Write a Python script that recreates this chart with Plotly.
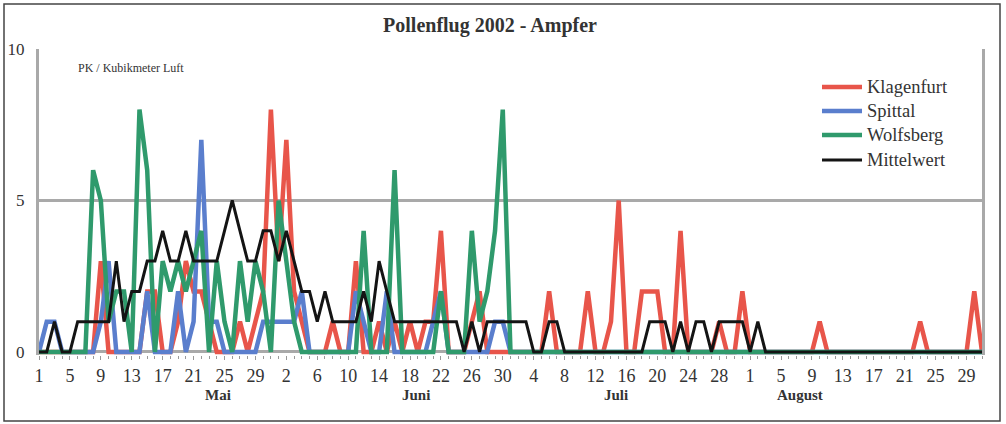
import pandas as pd
import plotly.graph_objects as go

# ---------------- data ----------------
dates = pd.date_range("2002-05-01", "2002-08-31", freq="D")

klagenfurt = (
    # Mai
    [0, 0, 0, 0, 0, 0, 0, 0, 3, 0, 0, 0, 0, 0, 2, 2, 0, 0, 1, 3, 2, 2, 1, 0, 0, 0, 1, 0, 1, 2, 8]
    # Juni
    + [3, 7, 2, 1, 0, 0, 0, 1, 0, 0, 3, 0, 0, 1, 0, 1, 0, 1, 0, 1, 1, 4, 0, 0, 0, 1, 2, 0, 0, 0]
    # Juli
    + [0, 0, 0, 0, 0, 2, 0, 0, 0, 0, 2, 0, 0, 1, 5, 0, 0, 2, 2, 2, 0, 0, 4, 0, 0, 0, 0, 1, 0, 0, 2]
    # August
    + [0, 0, 0, 0, 0, 0, 0, 0, 0, 1, 0, 0, 0, 0, 0, 0, 0, 0, 0, 0, 0, 0, 1, 0, 0, 0, 0, 0, 0, 2, 0]
)
spittal = (
    [0, 1, 1, 0, 0, 0, 0, 0, 1, 3, 0, 0, 0, 0, 2, 0, 0, 0, 2, 0, 1, 7, 1, 1, 0, 0, 0, 0, 0, 1, 1]
    + [1, 1, 1, 2, 0, 0, 0, 0, 0, 0, 2, 1, 0, 0, 2, 0, 0, 0, 0, 0, 1, 2, 0, 0, 0, 0, 0, 0, 1, 1]
    + [0] * 31
    + [0] * 31
)
wolfsberg = (
    [0, 0, 0, 0, 0, 0, 0, 6, 5, 1, 2, 2, 0, 8, 6, 0, 3, 2, 3, 2, 3, 4, 0, 3, 1, 0, 3, 1, 3, 2, 0]
    + [5, 3, 1, 0, 0, 0, 0, 0, 0, 0, 0, 4, 0, 0, 0, 6, 0, 0, 0, 0, 0, 2, 0, 0, 0, 4, 1, 2, 4, 8]
    + [0] * 31
    + [0] * 31
)
mittelwert = (
    [0, 0, 1, 0, 0, 1, 1, 1, 1, 1, 3, 1, 2, 2, 3, 3, 4, 3, 3, 4, 3, 3, 3, 3, 4, 5, 4, 3, 3, 4, 4]
    + [3, 4, 3, 2, 2, 1, 2, 1, 1, 1, 1, 2, 1, 3, 2, 1, 1, 1, 1, 1, 1, 1, 1, 1, 0, 1, 0, 1, 1, 1]
    + [1, 1, 1, 0, 0, 1, 1, 0, 0, 0, 0, 0, 0, 0, 0, 0, 0, 0, 1, 1, 1, 0, 1, 0, 1, 1, 0, 1, 1, 1, 1]
    + [0, 1] + [0] * 29
)

series_names = ["Klagenfurt", "Spittal", "Wolfsberg", "Mittelwert"]
series_values = [klagenfurt, spittal, wolfsberg, mittelwert]
series_colors = ["#E8554A", "#5A7ECD", "#2F9A6C", "#141414"]
series_widths = [4.5, 4.5, 4.5, 3]

month_labels = ["Mai", "Juni", "Juli", "August"]
y_ticks = [0, 5, 10]

# ---------------- layout geometry (pixels) ----------------
W, H = 1006, 424
PL, PR, PT, PB = 39, 982, 49, 355   # plot area edges


def px(xp):
    return (xp - PL) / (PR - PL)


def py(yp):
    return (PB - yp) / (PB - PT)


# ---------------- figure ----------------
fig = go.Figure()
for name, vals, col, w in zip(series_names, series_values, series_colors, series_widths):
    fig.add_trace(go.Scatter(x=dates, y=vals, mode="lines", name=name,
                             line=dict(color=col, width=w), showlegend=False))

tick_dates = dates[::4]
grid_col = "#A9A9A9"
txt_col = "#333333"
font_fam = "Liberation Serif"

fig.update_layout(
    width=W, height=H,
    margin=dict(l=PL, r=W - PR, t=PT, b=H - PB),
    paper_bgcolor="white", plot_bgcolor="white",
    font=dict(family=font_fam, color=txt_col),
    title=dict(text="<b>Pollenflug 2002 - Ampfer</b>", xref="container", yref="container",
               x=490 / W, xanchor="center", y=1 - 25 / H, yanchor="middle",
               font=dict(size=20, color=txt_col, family=font_fam)),
    showlegend=False,
    xaxis=dict(type="date", range=[dates[0], dates[-1]],
               tickvals=list(tick_dates), ticktext=[str(d.day) for d in tick_dates],
               ticks="outside", ticklen=4, tickcolor="#999", tickwidth=1,
               showgrid=False, zeroline=False, showline=False, automargin=False,
               tickfont=dict(size=18, color=txt_col, family=font_fam),
               minor=dict(ticks="outside", ticklen=3, tickcolor="#999", dtick=86400000, showgrid=False)),
    yaxis=dict(range=[-0.1, 10], tickvals=y_ticks, ticktext=[str(v) for v in y_ticks],
               showgrid=True, gridcolor=grid_col, gridwidth=2.5, zeroline=False,
               showline=True, linecolor=grid_col, linewidth=3, mirror=True,
               ticks="", ticklabelstandoff=8, automargin=False,
               tickfont=dict(size=17, color=txt_col, family=font_fam)),
)

# month labels
month_pos = [23.2, 48.8, 74.6, 98.4]
for lab, p in zip(month_labels, month_pos):
    fig.add_annotation(x=dates[0] + pd.Timedelta(days=p), y=py(395), xref="x", yref="paper",
                       text="<b>" + lab + "</b>", showarrow=False, xanchor="center", yanchor="middle",
                       font=dict(size=15, color=txt_col, family=font_fam))

fig.add_annotation(x=px(131), y=py(68), xref="paper", yref="paper", text="PK / Kubikmeter Luft",
                   showarrow=False, xanchor="center", yanchor="middle",
                   font=dict(size=12, color=txt_col, family=font_fam))

# legend (drawn with shapes + text)
leg_y = [87, 111, 135, 160]
for name, col, w, ly in zip(series_names, series_colors, series_widths, leg_y):
    fig.add_shape(type="line", xref="paper", yref="paper",
                  x0=px(822), x1=px(862), y0=py(ly), y1=py(ly),
                  line=dict(color=col, width=w))
    fig.add_annotation(x=px(865), y=py(ly), xref="paper", yref="paper", text=name,
                       showarrow=False, xanchor="left", yanchor="middle",
                       font=dict(size=18.5, color=txt_col, family=font_fam))

# outer frame
fig.add_shape(type="rect", xref="paper", yref="paper",
              x0=px(4), x1=px(1000), y0=py(421), y1=py(4),
              line=dict(color="#444", width=1.5), fillcolor="rgba(0,0,0,0)", layer="below")

fig.write_html("out.html", config={"displayModeBar": False},
               post_script="document.body.style.margin='0px';")
